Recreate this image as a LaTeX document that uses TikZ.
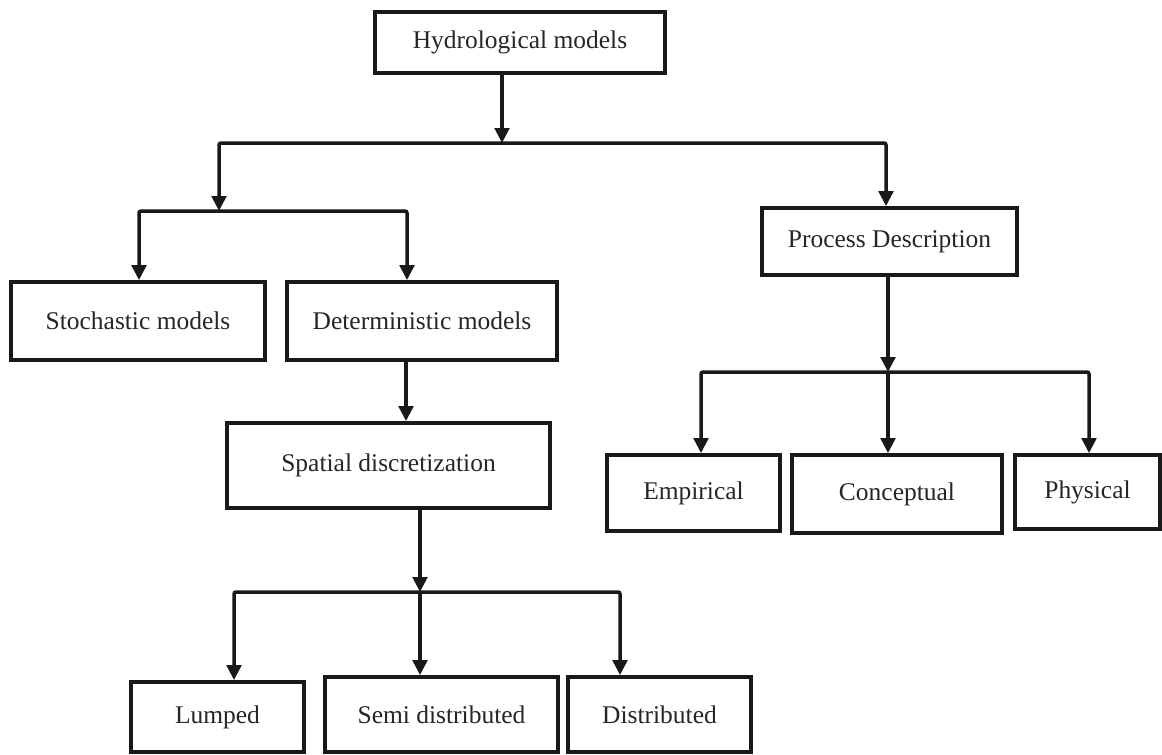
\documentclass[tikz,border=0pt]{standalone}
\usepackage{fontspec}
\setmainfont{Liberation Serif}
\usepackage{tikz}
\usetikzlibrary{arrows.meta}
\tikzset{
	box/.style={draw=black!90, line width=0.75mm, fill=white, text=black!85, inner sep=0pt, font=\fontsize{14.5}{17}\selectfont},
	arr/.style={draw=black!90, line width=0.7mm, rounded corners=0.4mm, -{Triangle[length=3mm, width=2.9mm]}}
}

\begin{document}
\begin{tikzpicture}[x=0.2mm, y=-0.2mm]
		%%%%% START %%%%%
		\useasboundingbox[fill=white] (0, 0) rectangle (1162, 754);
		
		\node[box, minimum width=58mm, minimum height=12.2mm] (hydro) at (520, 42.5) {Hydrological models};
		
		\node[box, minimum width=50.8mm, minimum height=15.6mm] (stoch) at (138, 321) {Stochastic models};
		\node[box, minimum width=54mm, minimum height=15.6mm] (determ) at (422, 321) {Deterministic models};
		\node[box, minimum width=64.6mm, minimum height=17mm] (spatial) at (388.5, 465.5) {Spatial discretization};
		
		\node[box, minimum width=34.6mm, minimum height=14mm] (lumped) at (217.5, 717) {Lumped};
		\node[box, minimum width=46.6mm, minimum height=15mm] (semi) at (441.5, 714.5) {Semi distributed};
		\node[box, minimum width=36.6mm, minimum height=15mm] (distr) at (659.5, 714.5) {Distributed};
		
		\node[box, minimum width=51mm, minimum height=13.4mm] (process) at (889.5, 241.5) {Process Description};
		
		\node[box, minimum width=34.6mm, minimum height=15.2mm] (empir) at (693.5, 493) {Empirical};
		\node[box, minimum width=42mm, minimum height=15.6mm] (concep) at (897, 494) {Conceptual};
		\node[box, minimum width=29mm, minimum height=14.8mm] (phys) at (1087.5, 492) {Physical};
		
		% junctions
		\coordinate (h1) at (502, 143);
		\coordinate (h1l) at (219, 143);
		\coordinate (h1r) at (886, 143);
		\coordinate (h2) at (219, 211);
		\coordinate (h2l) at (139, 211);
		\coordinate (h2r) at (407, 211);
		\coordinate (d1) at (406, 0);
		\coordinate (h3) at (420, 592);
		\coordinate (h3l) at (234, 592);
		\coordinate (h3r) at (620, 592);
		\coordinate (h4) at (888, 372);
		\coordinate (h4l) at (701, 372);
		\coordinate (h4r) at (1089, 372);
		
		\draw[arr] (hydro.south -| h1) -- (h1);
		\draw[arr] (h1) -- (h1l) -- (h2);
		\draw[arr] (h1) -- (h1r) -- (process.north -| h1r);
		
		\draw[arr] (h2) -- (h2l) -- (stoch.north -| h2l);
		\draw[arr] (h2) -- (h2r) -- (determ.north -| h2r);
		\draw[arr] (determ.south -| d1) -- (spatial.north -| d1);
		
		\draw[arr] (spatial.south -| h3) -- (h3);
		\draw[arr] (h3) -- (h3l) -- (lumped.north -| h3l);
		\draw[arr] (h3) -- (semi.north -| h3);
		\draw[arr] (h3) -- (h3r) -- (distr.north -| h3r);
		
		\draw[arr] (process.south -| h4) -- (h4);
		\draw[arr] (h4) -- (h4l) -- (empir.north -| h4l);
		\draw[arr] (h4) -- (concep.north -| h4);
		\draw[arr] (h4) -- (h4r) -- (phys.north -| h4r);
		
		%%%%% END %%%%%
	\end{tikzpicture}
\end{document}
